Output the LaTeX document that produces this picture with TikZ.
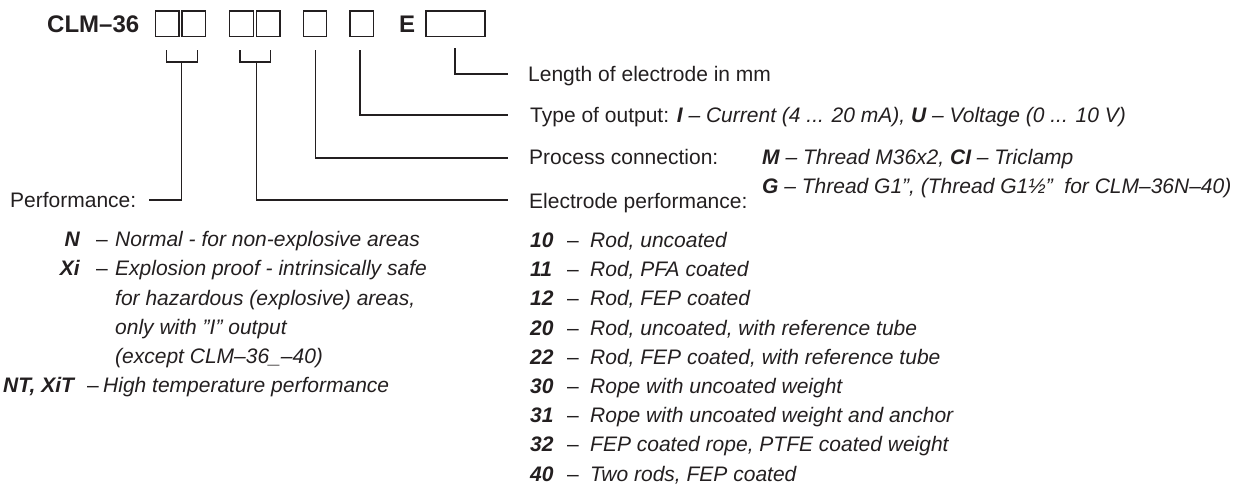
\documentclass[tikz,border=0pt]{standalone}
\usepackage{fontspec}
\setmainfont{Liberation Sans}
\definecolor{ink}{RGB}{35,31,32}
\newcommand\dq{\symbol{34}}
\begin{document}
\begin{tikzpicture}[x=1pt,y=-1pt,
  txt/.style={inner sep=0pt, text=ink, font=\fontsize{21}{25}\selectfont},
  big/.style={inner sep=0pt, text=ink, font=\fontsize{24}{28}\selectfont\bfseries},
  codebox/.style={draw=ink, line width=1.1pt, inner sep=0pt, minimum height=25.5pt},
  conn/.style={draw=ink, line width=1.1pt}]
\useasboundingbox (0,0) rectangle (1256,485);
% header
\node[big, anchor=base west] (clm) at (47,32.5) {CLM–36};
\node[codebox, minimum width=23.5pt] (b1) at (167.25,23.75) {};
\node[codebox, minimum width=23.5pt] (b2) at (193.75,23.75) {};
\node[codebox, minimum width=23.5pt] (b3) at (241.5,23.75) {};
\node[codebox, minimum width=23.5pt] (b4) at (268.25,23.75) {};
\node[codebox, minimum width=23.5pt] (b5) at (315,23.75) {};
\node[codebox, minimum width=23.5pt] (b6) at (361.75,23.75) {};
\node[big, anchor=base west] (e) at (399,32.5) {E};
\node[codebox, minimum width=59pt] (b7) at (455.5,23.75) {};
% bracket coordinates
\coordinate (k1a) at (166.7,50); \coordinate (k1b) at (197.3,50);
\coordinate (k2a) at (240,50);   \coordinate (k2b) at (270.7,50);
\coordinate (s1) at (181.7,62);  \coordinate (s2) at (256.7,62);
\coordinate (s5) at (315.7,50);  \coordinate (s6) at (360,50);
\coordinate (s7) at (455,48);
\coordinate (e1) at (149,200);
\coordinate (e2) at (508,200);
\coordinate (e5) at (508,158);
\coordinate (e6) at (508,115);
\coordinate (e7) at (508,74);
\draw[conn] (k1a) -- ++(0,12) -| (k1b);
\draw[conn] (k2a) -- ++(0,12) -| (k2b);
\draw[conn] (s1) |- (e1);
\draw[conn] (s2) |- (e2);
\draw[conn] (s5) |- (e5);
\draw[conn] (s6) |- (e6);
\draw[conn] (s7) |- (e7);
% right texts
\node[txt, anchor=base west] (len) at (528,81) {Length of electrode in mm};
\node[txt, anchor=base west] (out) at (530,122) {Type of output: {\bfseries\itshape I}\textit{ – Current (4 ... 20 mA), }{\bfseries\itshape U}\textit{ – Voltage (0 ... 10 V)}};
\node[txt, anchor=base west] (proc) at (529,164.5) {Process connection:};
\node[txt, anchor=base west] (procm) at (762,164.5) {{\bfseries\itshape M}\textit{ – Thread M36x2, }{\bfseries\itshape CI}\textit{ – Triclamp}};
\node[txt, anchor=base west] (procg) at (762,193.5) {{\bfseries\itshape G}\textit{ – Thread G1\dq, (Thread G1½\dq\ \ for CLM–36N–40)}};
\node[txt, anchor=base west] (elec) at (529,208.5) {Electrode performance:};
% electrode list
\foreach \n/\t [count=\i from 0] in {10/{Rod, uncoated},11/{Rod, PFA coated},12/{Rod, FEP coated},20/{Rod, uncoated, with reference tube},22/{Rod, FEP coated, with reference tube},30/{Rope with uncoated weight},31/{Rope with uncoated weight and anchor},32/{FEP coated rope, PTFE coated weight},40/{Two rods, FEP coated}}{
  \node[txt, anchor=base west, font=\fontsize{21}{25}\selectfont\bfseries\itshape] (en\i) at (530,247.5+29.2*\i) {\n};
  \node[txt, anchor=base west] (ed\i) at (567,247.5+29.2*\i) {–};
  \node[txt, anchor=base west, font=\fontsize{21}{25}\selectfont\itshape] (et\i) at (590,247.5+29.2*\i) {\t};
}
% left texts
\node[txt, anchor=base west] (perf) at (10,207.5) {Performance:};
\node[txt, anchor=base east, font=\fontsize{21}{25}\selectfont\bfseries\itshape] (pn) at (80,246.5) {N};
\node[txt, anchor=base west] (pnd) at (96,246.5) {–};
\node[txt, anchor=base west, font=\fontsize{21}{25}\selectfont\itshape] (pnt) at (115,246.5) {Normal - for non-explosive areas};
\node[txt, anchor=base east, font=\fontsize{21}{25}\selectfont\bfseries\itshape] (px) at (80,275.5) {Xi};
\node[txt, anchor=base west] (pxd) at (96,275.5) {–};
\node[txt, anchor=base west, font=\fontsize{21}{25}\selectfont\itshape] (pxt1) at (115,275.5) {Explosion proof - intrinsically safe};
\node[txt, anchor=base west, font=\fontsize{21}{25}\selectfont\itshape] (pxt2) at (115,305) {for hazardous (explosive) areas,};
\node[txt, anchor=base west, font=\fontsize{21}{25}\selectfont\itshape] (pxt3) at (115,334) {only with \dq I\dq\ output};
\node[txt, anchor=base west, font=\fontsize{21}{25}\selectfont\itshape] (pxt4) at (115,363) {(except CLM–36\_–40)};
\node[txt, anchor=base west, font=\fontsize{21}{25}\selectfont\bfseries\itshape] (pt) at (3,392.5) {NT, XiT};
\node[txt, anchor=base west] (ptd) at (87,392.5) {–};
\node[txt, anchor=base west, font=\fontsize{21}{25}\selectfont\itshape] (ptt) at (103,392.5) {High temperature performance};
\end{tikzpicture}
\end{document}
